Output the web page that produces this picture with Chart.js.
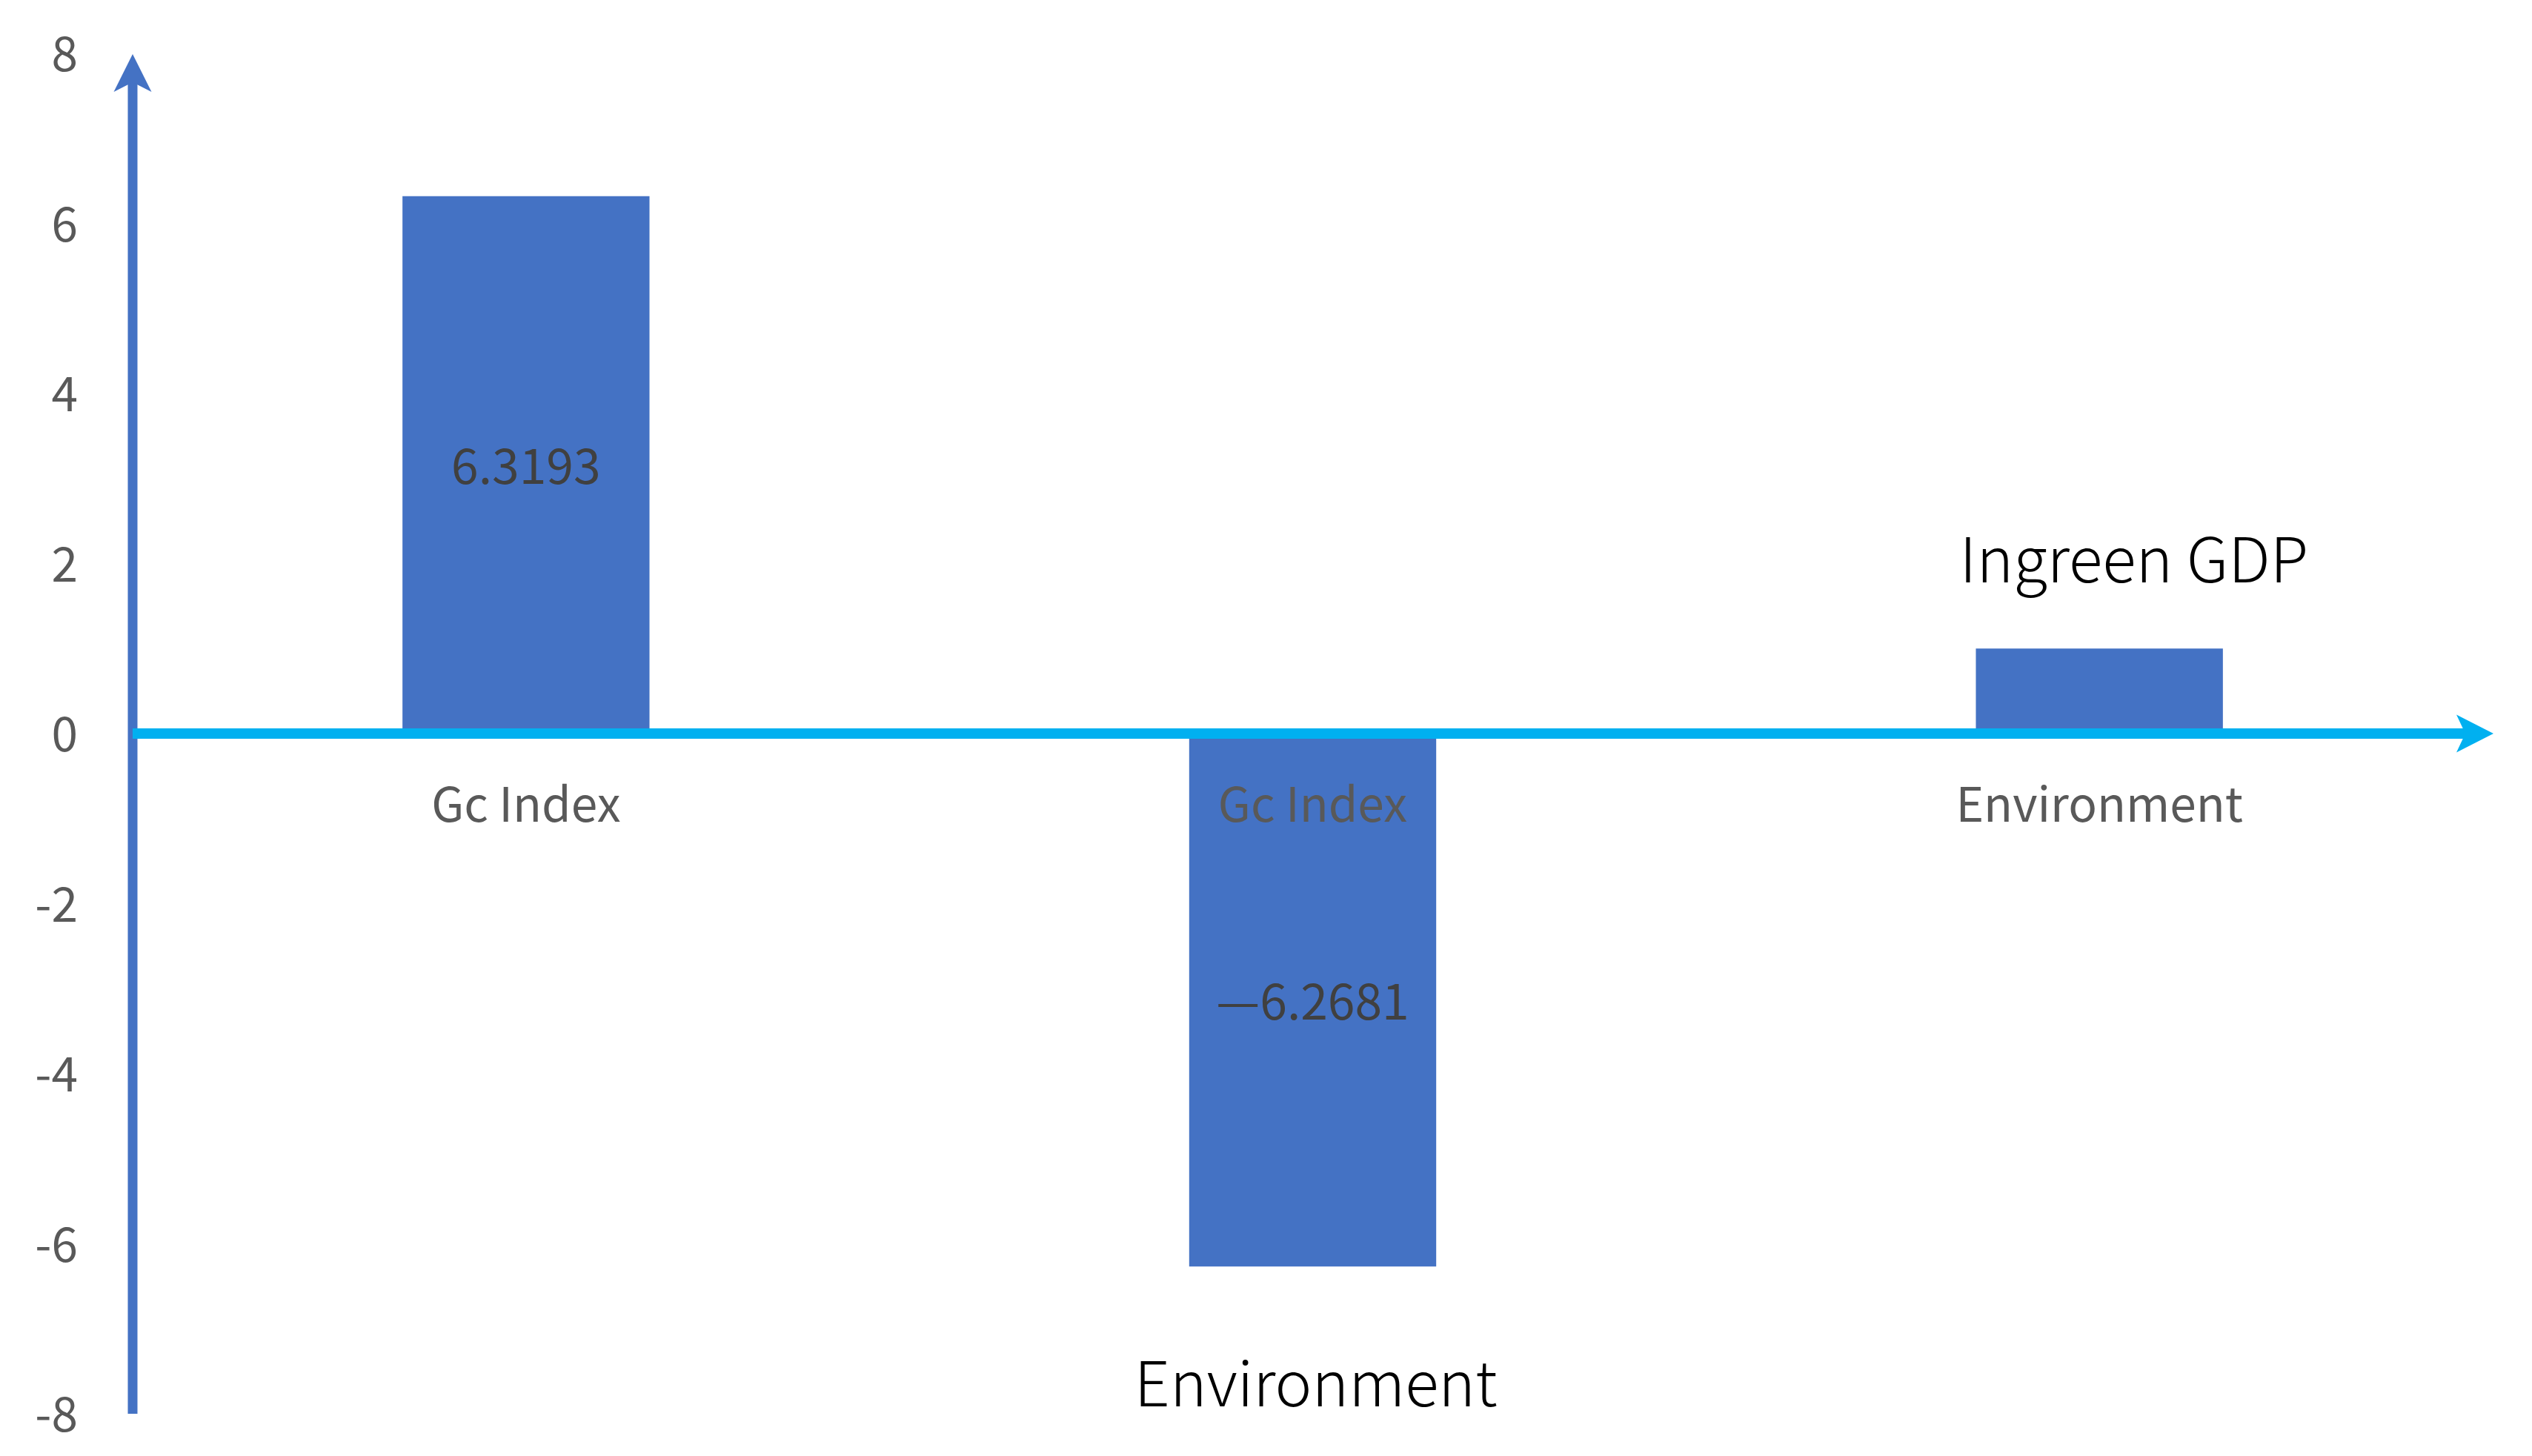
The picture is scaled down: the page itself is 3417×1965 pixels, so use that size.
<!DOCTYPE html>
<html>
<head>
<meta charset="utf-8">
<script src="https://cdn.jsdelivr.net/npm/chart.js@4.4.0/dist/chart.umd.min.js"></script>
<style>
  html, body { margin: 0; padding: 0; background: #fff; }
  #wrap { width: 3417px; height: 1965px; }
</style>
</head>
<body>
<div id="wrap"><canvas id="myChart" width="3417" height="1965"></canvas></div>
<script>
var categories = ['Gc Index', 'Gc Index', 'Environment'];
var values = [6.3193, -6.2681, 1.0];
var valueLabels = ['6.3193', '—6.2681', ''];
var yTicks = [8, 6, 4, 2, 0, -2, -4, -6, -8];

// loose text notes placed in data coordinates
var noteXs = [2.044, 1.004];
var noteYs = [1.78, -7.91];
var noteTexts = ['Ingreen GDP', 'Environment'];

var FONT = '"Noto Sans CJK SC", "Noto Sans", sans-serif';

var axisArrows = {
    id: 'axisArrows',
    afterDatasetsDraw: function (chart) {
        var ctx = chart.ctx;
        var xs = chart.scales.x, ys = chart.scales.y;
        var x0 = xs.left;
        var y0 = ys.getPixelForValue(0);

        ctx.save();
        // vertical axis with arrow on top
        var tip = ys.top + 1;
        ctx.fillStyle = '#4472C4';
        ctx.fillRect(x0 - 6.5, tip + 38, 13, ys.bottom - tip - 38);
        ctx.beginPath();
        ctx.moveTo(x0, tip);
        ctx.lineTo(x0 + 25.5, tip + 51);
        ctx.lineTo(x0, tip + 38);
        ctx.lineTo(x0 - 25.5, tip + 51);
        ctx.closePath();
        ctx.fill();

        // horizontal axis at zero with arrow on the right
        var tipX = xs.right + 1;
        ctx.fillStyle = '#00B0F0';
        ctx.fillRect(x0, y0 - 7, tipX - 38 - x0, 14);
        ctx.beginPath();
        ctx.moveTo(tipX, y0);
        ctx.lineTo(tipX - 50, y0 - 25.5);
        ctx.lineTo(tipX - 38, y0);
        ctx.lineTo(tipX - 50, y0 + 25.5);
        ctx.closePath();
        ctx.fill();

        // category names just under the zero line
        ctx.textAlign = 'center';
        ctx.textBaseline = 'alphabetic';
        ctx.fillStyle = '#595959';
        ctx.font = '64px ' + FONT;
        categories.forEach(function (c, i) {
            ctx.fillText(c, xs.getPixelForValue(i), y0 + 119);
        });

        // value labels in the middle of the bars
        ctx.fillStyle = '#404040';
        ctx.font = '66px ' + FONT;
        chart.getDatasetMeta(0).data.forEach(function (bar, i) {
            if (!valueLabels[i]) return;
            var mid = (bar.y + bar.base) / 2;
            ctx.fillText(valueLabels[i], bar.x, mid + 26);
        });

        // notes
        ctx.fillStyle = '#000000';
        ctx.font = '300 84px ' + FONT;
        noteTexts.forEach(function (t, i) {
            ctx.fillText(t, xs.getPixelForValue(noteXs[i]), ys.getPixelForValue(noteYs[i]));
        });
        ctx.restore();
    }
};

var ctx = document.getElementById('myChart').getContext('2d');
var chart = new Chart(ctx, {
    type: 'bar',
    data: {
        labels: categories,
        datasets: [{
            data: values,
            backgroundColor: '#4472C4',
            borderWidth: 0,
            categoryPercentage: 1,
            barPercentage: 0.314
        }]
    },
    options: {
        responsive: false,
        animation: false,
        devicePixelRatio: 1,
        layout: {
            padding: { left: 0, top: 72, right: 53, bottom: 57 }
        },
        plugins: {
            legend: { display: false },
            tooltip: { enabled: false }
        },
        scales: {
            x: {
                display: false,
                grid: { display: false }
            },
            y: {
                min: -8,
                max: 8,
                border: { display: false },
                grid: { display: false, drawTicks: false },
                afterFit: function (scale) {
                    scale.width = 179;
                    scale.paddingTop = 0;
                    scale.paddingBottom = 0;
                },
                afterBuildTicks: function (scale) {
                    scale.ticks = yTicks.map(function (v) { return { value: v }; });
                },
                ticks: {
                    padding: 74,
                    color: '#595959',
                    font: { family: FONT, size: 64 },
                    callback: function (v) { return String(v); }
                }
            }
        }
    },
    plugins: [axisArrows]
});
</script>
</body>
</html>
